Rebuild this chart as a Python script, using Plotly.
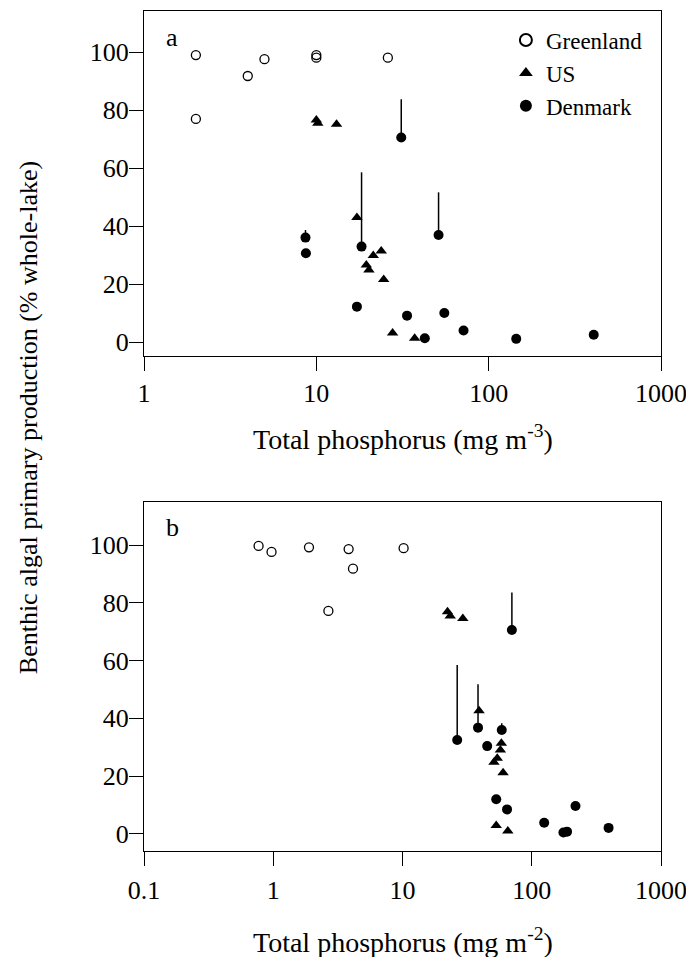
import plotly.graph_objects as go

# ---------------- Panel a: TP concentration (mg m-3) ----------------
a_green_x = [2, 4, 5, 10, 10, 26, 2]
a_green_y = [99, 91.8, 97.6, 99, 98.1, 98.1, 77]

a_us_x = [10, 10.2, 13.1, 17.2, 19.5, 20.2, 21.4, 23.8, 24.6, 27.7, 37.2]
a_us_y = [76.6, 75.5, 75.2, 43, 26.7, 24.9, 29.9, 31.5, 21.7, 3.2, 1.4]

a_dk_x = [31.1, 18.3, 51.2, 8.65, 8.7, 17.2, 33.6, 42.6, 55.3, 71.5, 144.5, 407]
a_dk_y = [70.6, 33, 37, 36.1, 30.7, 12.3, 9.2, 1.4, 10.1, 4.1, 1.2, 2.6]
a_dk_err = [13.2, 25.6, 14.7, 2.6, 0, 0, 0, 0, 0, 0, 0, 0]

# ---------------- Panel b: TP areal (mg m-2) ----------------
b_green_x = [0.77, 0.97, 1.89, 3.83, 4.14, 2.67, 10.2]
b_green_y = [99.7, 97.6, 99.2, 98.6, 91.8, 77.2, 98.9]

b_us_x = [22.3, 23.4, 29.3, 39.1, 58.2, 57.2, 54.1, 51, 60, 53.1, 65.3]
b_us_y = [76.9, 75.4, 74.6, 42.6, 31.4, 29.1, 26.2, 24.8, 21.2, 2.9, 1.0]

b_dk_x = [70.2, 26.5, 38.4, 58.6, 45.2, 53.1, 64.4, 124.8, 175.8, 187.5, 218, 393]
b_dk_y = [70.6, 32.5, 36.8, 36, 30.4, 12, 8.5, 3.9, 0.5, 0.8, 9.7, 2.1]
b_dk_err = [13.0, 26.0, 15.0, 2.3, 0, 0, 0, 0, 0, 0, 0, 0]

a_xticks = [1, 10, 100, 1000]
a_xticktext = ["1", "10", "100", "1000"]
b_xticks = [0.1, 1, 10, 100, 1000]
b_xticktext = ["0.1", "1", "10", "100", "1000"]
y_ticks = [0, 20, 40, 60, 80, 100]

FONT = "Liberation Serif, Times New Roman, serif"
zeros = [0] * 12

fig = go.Figure()

green_marker = dict(symbol="circle-open", size=9, color="black", line=dict(width=1.3, color="black"))
us_marker = dict(symbol="triangle-up", size=10, color="black")
dk_marker = dict(symbol="circle", size=10, color="black")

fig.add_trace(go.Scatter(x=a_green_x, y=a_green_y, mode="markers", name="Greenland",
                         marker=green_marker, xaxis="x", yaxis="y"))
fig.add_trace(go.Scatter(x=a_us_x, y=a_us_y, mode="markers", name="US",
                         marker=us_marker, xaxis="x", yaxis="y"))
fig.add_trace(go.Scatter(x=a_dk_x, y=a_dk_y, mode="markers", name="Denmark",
                         marker=dk_marker, xaxis="x", yaxis="y",
                         error_y=dict(type="data", symmetric=False, array=a_dk_err,
                                      arrayminus=zeros, width=0, thickness=1.5, color="black")))

fig.add_trace(go.Scatter(x=b_green_x, y=b_green_y, mode="markers", name="Greenland",
                         marker=green_marker, xaxis="x2", yaxis="y2", showlegend=False))
fig.add_trace(go.Scatter(x=b_us_x, y=b_us_y, mode="markers", name="US",
                         marker=us_marker, xaxis="x2", yaxis="y2", showlegend=False))
fig.add_trace(go.Scatter(x=b_dk_x, y=b_dk_y, mode="markers", name="Denmark",
                         marker=dk_marker, xaxis="x2", yaxis="y2", showlegend=False,
                         error_y=dict(type="data", symmetric=False, array=b_dk_err,
                                      arrayminus=zeros, width=0, thickness=1.5, color="black")))

axis_common = dict(showline=True, mirror=True, linecolor="black", linewidth=1,
                   ticks="outside", ticklen=14, tickcolor="black", tickwidth=1,
                   showgrid=False, zeroline=False,
                   tickfont=dict(family=FONT, size=26, color="black"))

fig.update_layout(
    width=686, height=949,
    margin=dict(l=136, r=33, t=3, b=106),
    paper_bgcolor="white", plot_bgcolor="white",
    font=dict(family=FONT, color="black"),
    xaxis=dict(type="log", range=[0, 3], tickvals=a_xticks, ticktext=a_xticktext,
               anchor="y", ticklabelstandoff=0, **axis_common),
    yaxis=dict(range=[-4.7, 114.2], tickvals=y_ticks, domain=[0.5893, 1.0],
               anchor="x", ticklabelstandoff=-5, **axis_common),
    xaxis2=dict(type="log", range=[-1, 3], tickvals=b_xticks, ticktext=b_xticktext,
                anchor="y2", ticklabelstandoff=2, **axis_common),
    yaxis2=dict(range=[-5.9, 114.9], tickvals=y_ticks, domain=[0, 0.4155],
                anchor="x2", ticklabelstandoff=-5, **axis_common),
    legend=dict(x=0.70, y=0.991, xanchor="left", yanchor="top",
                font=dict(family=FONT, size=23, color="black"),
                bgcolor="rgba(0,0,0,0)", tracegroupgap=0, itemsizing="constant"),
    showlegend=True,
    annotations=[
        dict(text="a", x=0.055, y=0.969, xref="paper", yref="paper", showarrow=False,
             xanchor="center", yanchor="middle", font=dict(family=FONT, size=26)),
        dict(text="b", x=0.055, y=0.385, xref="paper", yref="paper", showarrow=False,
             xanchor="center", yanchor="middle", font=dict(family=FONT, size=26)),
        dict(text="Total phosphorus (mg m<sup>-3</sup>)", x=0.5, y=(851 - 437) / 840,
             xref="paper", yref="paper", showarrow=False, xanchor="center", yanchor="middle",
             font=dict(family=FONT, size=28)),
        dict(text="Total phosphorus (mg m<sup>-2</sup>)", x=0.5, y=(851 - 940) / 840,
             xref="paper", yref="paper", showarrow=False, xanchor="center", yanchor="middle",
             font=dict(family=FONT, size=28)),
        dict(text="Benthic algal primary production (% whole-lake)",
             x=(30 - 144) / 509, y=(851 - 418) / 840, xref="paper", yref="paper",
             showarrow=False, textangle=-90, xanchor="center", yanchor="middle",
             font=dict(family=FONT, size=26)),
    ],
)

fig.write_html("out.html")
